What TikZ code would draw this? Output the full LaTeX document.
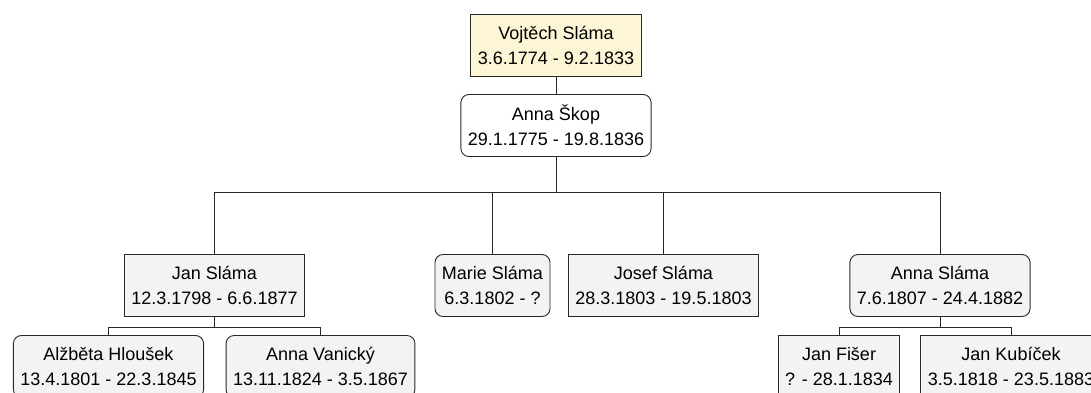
\documentclass[tikz,border=0pt]{standalone}
\usepackage{xcolor}
\usepackage{fontspec}
\setmainfont{Liberation Sans}
\usepackage{tikz}
\usetikzlibrary{positioning}

\definecolor{rootfill}{RGB}{252,246,214}
\definecolor{boxfill}{RGB}{243,243,243}
\definecolor{boxline}{RGB}{40,40,40}

\tikzset{
  person/.style = {draw=boxline, fill=boxfill, line width=0.9pt, align=center,
    inner xsep=7pt, inner ysep=2pt, minimum height=62pt,
    font=\fontsize{18}{25}\selectfont},
  spouse/.style = {person, rounded corners=8pt},
}

\begin{document}
\begin{tikzpicture}
    [
      x=1pt, y=1pt,
      every child/.style = {draw=boxline, line width=0.9pt},
      level 1/.style = {level distance = 80.5pt},
      level 2/.style = {level distance = 160pt, sibling distance = 171pt,
        edge from parent path = {(\tikzparentnode.south) -- ++(0,-35pt) -| (\tikzchildnode.north)}},
      level 3/.style = {level distance = 81pt, sibling distance = 212pt,
        edge from parent path = {(\tikzparentnode.south) -- ++(0,-10pt) -| (\tikzchildnode.north)}},
    ]
    \clip (0,0) rectangle (1091,-392);

    \node[person,fill=rootfill] (vojtech) at (556,-45) {Vojtěch Sláma\\3.6.1774 - 9.2.1833}
      child {node[spouse,fill=white] (skop) {Anna Škop\\29.1.1775 - 19.8.1836}
        child[xshift=-85pt] {node[person] (jan) {Jan Sláma\\12.3.1798 - 6.6.1877}
          child {node[spouse] (hlousek) {Alžběta Hloušek\\13.4.1801 - 22.3.1845}}
          child {node[spouse] (vanicky) {Anna Vanický\\13.11.1824 - 3.5.1867}}
        }
        child[xshift=22pt] {node[spouse] (marie) {Marie Sláma\\6.3.1802 - ?}}
        child[xshift=22pt] {node[person] (josef) {Josef Sláma\\28.3.1803 - 19.5.1803}}
        child[xshift=127.5pt] {node[spouse] (anna) {Anna Sláma\\7.6.1807 - 24.4.1882}
          child[sibling distance=172pt, xshift=-15pt] {node[person] (fiser) {Jan Fišer\\? - 28.1.1834}}
          child[sibling distance=172pt, xshift=-15pt] {node[person] (kubicek) {Jan Kubíček\\3.5.1818 - 23.5.1883}}
        }
      };
\end{tikzpicture}
\end{document}
